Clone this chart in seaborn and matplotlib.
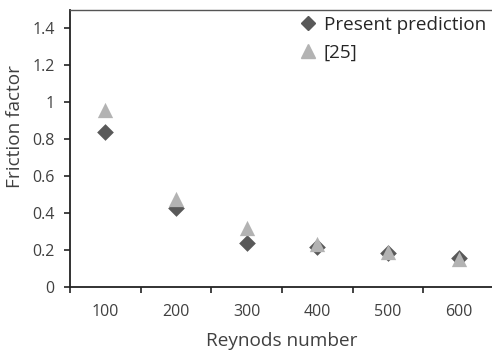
import matplotlib
matplotlib.use("Agg")
import matplotlib.pyplot as plt
import seaborn as sns
import pandas as pd
from matplotlib.lines import Line2D

reynolds = ["100", "200", "300", "400", "500", "600"]
present_prediction = [0.842, 0.43, 0.237, 0.215, 0.182, 0.155]
ref_25 = [0.96, 0.474, 0.32, 0.235, 0.19, 0.152]
y_ticks = [0, 0.2, 0.4, 0.6, 0.8, 1, 1.2, 1.4]
y_tick_labels = ["0", "0.2", "0.4", "0.6", "0.8", "1", "1.2", "1.4"]

dark = "#595959"
light = "#b3b3b3"
text_color = "#404040"

sns.set_style("white")
plt.rcParams["font.family"] = ["Open Sans", "DejaVu Sans"]

fig = plt.figure(figsize=(4.92, 3.54), dpi=100)
ax = fig.add_axes([70 / 492, 1 - 287 / 354, 424 / 492, 277 / 354])

df_p = pd.DataFrame({"Re": reynolds, "f": present_prediction})
df_r = pd.DataFrame({"Re": reynolds, "f": ref_25})

sns.stripplot(data=df_p, x="Re", y="f", jitter=False, marker="D", size=8.5,
              color=dark, linewidth=0, ax=ax, zorder=3)
sns.stripplot(data=df_r, x="Re", y="f", jitter=False, marker="^", size=11,
              color=light, linewidth=0, ax=ax, zorder=4)

ax.set_xlim(-0.5, len(reynolds) - 0.5)
ax.set_ylim(0, 1.5)
ax.set_yticks(y_ticks)
ax.set_yticklabels(y_tick_labels)

# category axis: tick marks on the boundaries, labels centred in each slot
ax.set_xticks([i + 0.5 for i in range(-1, len(reynolds))], minor=False)
ax.set_xticklabels([""] * (len(reynolds) + 1))
ax.set_xticks(range(len(reynolds)), minor=True)
ax.set_xticklabels(reynolds, minor=True)
ax.tick_params(axis="x", which="major", direction="out", length=4, width=1.2,
               color="#222222", bottom=True)
ax.tick_params(axis="x", which="minor", length=0, pad=12, labelsize=11.5,
               labelcolor=text_color)
ax.tick_params(axis="y", direction="out", length=4, width=1.2, color="#222222",
               left=True, pad=7, labelsize=11.5, labelcolor=text_color)

for side in ["left", "bottom"]:
    ax.spines[side].set_color("#222222")
    ax.spines[side].set_linewidth(1.3)
ax.spines["top"].set_color("#555555")
ax.spines["top"].set_linewidth(1.0)
ax.spines["right"].set_visible(False)

ax.set_xlabel("Reynods number", fontsize=13.7, color=text_color, labelpad=9)
ax.set_ylabel("Friction factor", fontsize=13.7, color=text_color)
ax.yaxis.set_label_coords(-0.108, 0.578)

handles = [
    Line2D([], [], marker="D", color=dark, linestyle="none", markersize=7),
    Line2D([], [], marker="^", color=light, linestyle="none", markersize=9.5),
]
leg = fig.legend(handles, ["Present prediction", "[25]"], loc="upper left",
                 bbox_to_anchor=(300 / 492, 1 - 16 / 354), frameon=False,
                 fontsize=13.6, labelspacing=0.5, handlelength=0.8,
                 handletextpad=0.45, borderaxespad=0, borderpad=0)
for t in leg.get_texts():
    t.set_color("#262626")

fig.savefig("out.png", dpi=100)
